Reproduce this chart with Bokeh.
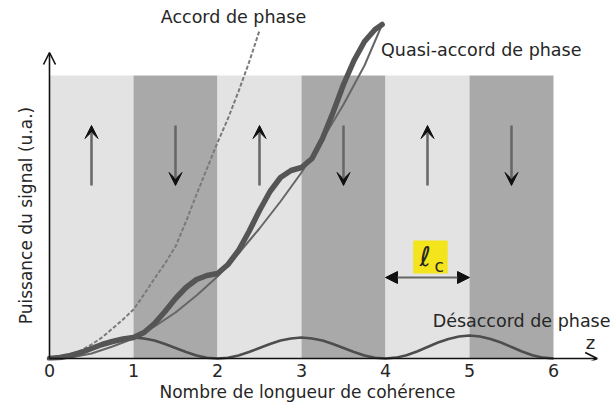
from bokeh.plotting import figure
from bokeh.models import (Range1d, Label, Arrow, NormalHead, OpenHead, VeeHead,
                          FixedTicker, BoxAnnotation)
from bokeh.embed import file_html
from bokeh.resources import INLINE
from math import pi

# ---------------- data (u.a.) ----------------
# coherence-length segments (domains) and their orientation
segments = [0, 1, 2, 3, 4, 5]
segment_kind = ["up", "down", "up", "down", "up", "down"]
band_top = 283

# phase matching (accord de phase)
z_accord = [0, 0.125, 0.25, 0.375, 0.5, 0.625, 0.75, 0.875, 1.0, 1.125, 1.25,
            1.375, 1.5, 1.625, 1.75, 1.875, 2.0, 2.125, 2.25, 2.375, 2.5]
p_accord = [0, 1, 4, 8, 14, 21, 30, 39, 49, 64, 80, 95, 112, 137, 164, 190,
            216, 240, 267, 296, 328]

# quasi phase matching (real, thick)
z_qpm = [0, 0.125, 0.25, 0.375, 0.5, 0.625, 0.75, 0.875, 1.0, 1.125, 1.25,
         1.375, 1.5, 1.625, 1.75, 1.875, 2.0, 2.125, 2.25, 2.375, 2.5, 2.625,
         2.75, 2.875, 3.0, 3.125, 3.25, 3.375, 3.5, 3.625, 3.75, 3.875, 3.96]
p_qpm = [0, 1, 3, 6, 10, 14, 17, 19.5, 21, 26, 35, 47, 60, 71, 79, 83, 85,
         94, 108, 127, 148, 167, 181, 188, 191, 200, 220, 246, 274, 298, 317,
         329, 334]

# quasi phase matching (ideal, thin)
z_qpm_ideal = [0, 0.25, 0.5, 0.75, 1.0, 1.25, 1.5, 1.75, 2.0, 2.25, 2.5, 2.75,
               3.0, 3.25, 3.5, 3.75, 3.96]
p_qpm_ideal = [0, 1, 5, 12, 20, 32, 46, 63, 82, 105, 130, 157, 186, 219, 254,
               293, 334]

# phase mismatch (désaccord de phase)
z_desaccord = [i * 0.125 for i in range(49)]
p_desaccord = [0, 0.8, 3, 6.5, 10.5, 14.5, 18, 20, 21, 20, 18, 14.5, 10.5,
               6.5, 3, 0.8,
               0, 0.8, 3, 6.5, 10.5, 14.5, 18, 20, 21, 20, 18, 14.5, 10.5,
               6.5, 3, 0.8,
               0, 0.9, 3.3, 7, 11.5, 16, 19.5, 22, 23, 22, 19.5, 16, 11.5,
               7, 3.3, 0.9, 0]

ticks = [0, 1, 2, 3, 4, 5, 6]
tick_labels = ["0", "1", "2", "3", "4", "5", "6"]
x_title = "Nombre de longueur de cohérence"
y_title = "Puissance du signal (u.a.)"

FONT = "DejaVu Sans"
TXT = "#262626"

p = figure(width=614, height=405, output_backend="svg", toolbar_location=None,
           x_range=Range1d(-49 / 84, 565 / 84), y_range=Range1d(-2, 358),
           y_axis_location=None, min_border_left=0, min_border_right=0,
           min_border_top=0, min_border_bottom=45)
p.grid.visible = False
p.outline_line_color = None
p.background_fill_color = "white"
p.border_fill_color = "white"

# x axis: tick labels and title only
xa = p.xaxis[0]
xa.ticker = FixedTicker(ticks=ticks)
xa.major_label_overrides = {t: l for t, l in zip(ticks, tick_labels)}
xa.axis_line_color = None
xa.major_tick_line_color = None
xa.minor_tick_line_color = None
xa.major_tick_out = 0
xa.major_tick_in = 0
xa.major_label_standoff = 3
xa.major_label_text_font = FONT
xa.major_label_text_font_size = "17.5px"
xa.major_label_text_color = TXT
xa.axis_label = x_title
xa.axis_label_standoff = 2
xa.axis_label_text_font = FONT
xa.axis_label_text_font_size = "17px"
xa.axis_label_text_font_style = "normal"
xa.axis_label_text_color = TXT

# bands
lefts = segments
rights = [s + 1 for s in segments]
colors = ["#e3e3e3" if k == "up" else "#a9a9a9" for k in segment_kind]
p.quad(left=lefts, right=rights, bottom=[0] * len(segments),
       top=[band_top] * len(segments), fill_color=colors, line_color=None)

# domain orientation arrows
for s, k in zip(segments, segment_kind):
    x = s + 0.5
    y0, y1 = (173, 233) if k == "up" else (233, 173)
    p.add_layout(Arrow(x_start=x, y_start=y0, x_end=x, y_end=y1,
                       line_color="#666666", line_width=2.5,
                       end=VeeHead(size=13, fill_color="#111111",
                                   line_color="#111111", line_width=1)))

# curves
p.line(z_accord, p_accord, line_color="#7a7a7a", line_width=2,
       line_dash="4 2")
p.line(z_desaccord, p_desaccord, line_color="#4d4d4d", line_width=2.5,
       line_join="round")
p.line(z_qpm_ideal, p_qpm_ideal, line_color="#666666", line_width=2,
       line_join="round")
p.line(z_qpm, p_qpm, line_color="#555555", line_width=5.5, line_join="round",
       line_cap="round")

# axes arrows
p.add_layout(Arrow(x_start=0, y_start=0, x_end=0, y_end=306,
                   line_color="#111111", line_width=1.6,
                   end=OpenHead(size=12, line_color="#111111", line_width=1.6)))
p.add_layout(Arrow(x_start=0, y_start=0, x_end=6.52, y_end=0,
                   line_color="#111111", line_width=1.6,
                   end=OpenHead(size=12, line_color="#111111", line_width=1.6)))

# coherence length marker
p.add_layout(BoxAnnotation(left=4.33, right=4.74, bottom=85, top=118,
                           fill_color="#f3e41c", fill_alpha=1,
                           line_color=None))
p.add_layout(Arrow(x_start=4, y_start=81, x_end=5, y_end=81,
                   line_color="#666666", line_width=2,
                   start=NormalHead(size=12, fill_color="#111111",
                                    line_color="#111111"),
                   end=NormalHead(size=12, fill_color="#111111",
                                  line_color="#111111")))
p.add_layout(Label(x=4.47, y=102, text="ℓ", text_font=FONT,
                   text_font_style="italic", text_font_size="27px",
                   text_color=TXT, text_align="center",
                   text_baseline="middle"))
p.add_layout(Label(x=4.64, y=93, text="c", text_font=FONT,
                   text_font_size="17px", text_color=TXT,
                   text_align="center", text_baseline="middle"))

# text labels
def lab(x, y, t, size="17.5px", angle=0, align="center"):
    p.add_layout(Label(x=x, y=y, text=t, text_font=FONT, text_font_size=size,
                       text_color=TXT, text_align=align,
                       text_baseline="middle", angle=angle))

lab(2.19, 342, "Accord de phase")
lab(5.14, 309, "Quasi-accord de phase")
lab(5.62, 38, "Désaccord de phase")
lab(6.44, 16, "z", size="18px")
lab(-0.28, 143, y_title, size="17px", angle=pi / 2)

open("out.html", "w").write(file_html(p, INLINE))
